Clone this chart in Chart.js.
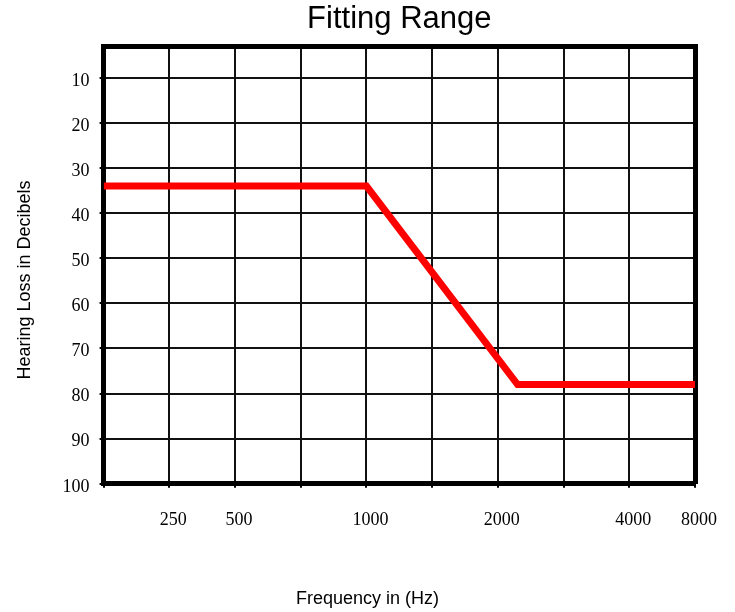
<!DOCTYPE html>
<html>
<head>
<meta charset="utf-8">
<title>Fitting Range</title>
<script src="https://cdn.jsdelivr.net/npm/chart.js@4.4.1/dist/chart.umd.min.js"></script>
<style>
	body { margin: 0; background: #fff; }
	#wrap { width: 735px; height: 612px; }
</style>
</head>
<body>
<div id="wrap"><canvas id="mycanvas"></canvas></div>
<script>
// frequency grid has 10 positions (0..9), only some carry a label
var freq_labels = ["", "250", "500", "", "1000", "", "2000", "", "4000", "8000"];
var db_ticks = [10, 20, 30, 40, 50, 60, 70, 80, 90, 100];

// fitting range line: x = position on the frequency grid, y = hearing loss (dB)
var fit_x = [0, 4, 6.3, 9];
var fit_y = [34, 34, 78, 78];

var points = [];
for (var i in fit_x) {
	points.push({x: fit_x[i], y: fit_y[i]});
}

var serif = {family: "'Liberation Serif', 'Times New Roman', serif", size: 18};
var sans = {family: "'Liberation Sans', Arial, sans-serif", size: 18};

var chartdata = {
	datasets: [
		{
			label: "Fitting Range",
			data: points,
			borderColor: "#ff0000",
			borderWidth: 7,
			pointRadius: 0,
			fill: false,
			tension: 0,
			xAxisID: "x",
			yAxisID: "y"
		}
	]
};

var ctx = document.getElementById("mycanvas");

var LineGraph = new Chart(ctx, {
	type: "line",
	data: chartdata,
	options: {
		responsive: true,
		maintainAspectRatio: false,
		animation: false,
		layout: { padding: 0 },
		plugins: {
			legend: { display: false },
			tooltip: { enabled: false },
			title: {
				display: true,
				position: "bottom",
				text: "Frequency in (Hz)",
				color: "#000",
				font: {family: sans.family, size: 18, weight: "normal"},
				padding: {top: 35, bottom: 2}
			}
		},
		scales: {
			x: {
				type: "linear",
				position: "bottom",
				min: 0,
				max: 9,
				afterBuildTicks: function(scale) {
					scale.ticks = freq_labels.map(function(l, i) { return {value: i}; });
				},
				grid: { color: "#111", lineWidth: 2, tickLength: 4, tickColor: "#000" },
				border: { color: "#000", width: 5 },
				ticks: {
					autoSkip: false,
					maxRotation: 0,
					padding: 22,
					labelOffset: 4,
					color: "#000",
					font: serif,
					callback: function(v) { return freq_labels[v]; }
				}
			},
			y: {
				type: "linear",
				position: "left",
				reverse: true,
				min: 3,
				max: 100,
				afterBuildTicks: function(scale) {
					scale.ticks = db_ticks.map(function(v) { return {value: v}; });
				},
				grid: { color: "#111", lineWidth: 2, tickLength: 4, tickColor: "#000" },
				border: { color: "#000", width: 5 },
				ticks: { padding: 10, labelOffset: 3, color: "#000", font: serif },
				title: {
					display: true,
					// trailing spaces push the text a bit down, like the original
					text: "Hearing Loss in Decibels      ",
					color: "#000",
					font: sans,
					padding: {top: 14, bottom: 17}
				}
			},
			x2: {
				type: "linear",
				position: "top",
				grid: { display: false, drawTicks: false },
				border: { color: "#000", width: 5 },
				ticks: { display: false },
				title: {
					display: true,
					text: "Fitting Range",
					color: "#000",
					font: {family: sans.family, size: 31},
					padding: {top: 1, bottom: 8}
				}
			},
			y2: {
				type: "linear",
				position: "right",
				grid: { display: false, drawTicks: false },
				border: { color: "#000", width: 5 },
				ticks: { display: false },
				// empty strip on the right so the plot ends where the original does
				afterFit: function(scale) { scale.width = 38; }
			}
		}
	}
});
</script>
</body>
</html>
